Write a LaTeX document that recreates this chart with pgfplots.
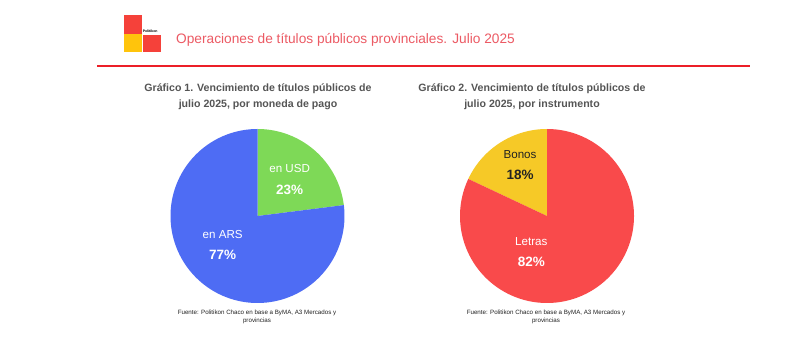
\documentclass[border=0pt]{standalone}
\usepackage{pgfplots}
\pgfplotsset{compat=1.18}
\usepackage{pgfplotstable}
\usepackage{fontspec}
\setmainfont{Liberation Sans}
\definecolor{ars}{HTML}{4E6CF4}
\definecolor{usd}{HTML}{7ED957}
\definecolor{letras}{HTML}{F94A4B}
\definecolor{bonos}{HTML}{F6C927}
\definecolor{titlered}{HTML}{EC5A64}
\definecolor{linered}{HTML}{EC1F28}
\definecolor{logored}{HTML}{F5413A}
\definecolor{logoyel}{HTML}{FFC40C}
\definecolor{grayt}{HTML}{555555}
\definecolor{darkt}{HTML}{222222}

\pgfplotstableread{
moneda valor
USD 23
ARS 77
}\monedas
\pgfplotstableread{
instrumento valor
Bonos 18
Letras 82
}\instrumentos

\begin{document}
\begin{tikzpicture}[x=1pt,y=1pt]
\path[use as bounding box, fill=white] (0,0) rectangle (800,-358);
\coordinate (c1) at (257.5,-216);
\coordinate (c2) at (547,-216);
% logo
\fill[logored] (124,-15) rectangle (142,-34);
\fill[logoyel] (124,-34.5) rectangle (142,-52);
\fill[logored] (142.5,-35) rectangle (161,-52);
\node[font=\bfseries\fontsize{3.5}{4}\selectfont, anchor=west, inner sep=0] at (142.6,-31) {Politikon};
\node[font=\fontsize{13.7}{16}\selectfont, text=titlered, anchor=west, inner sep=0] at (176,-40) {Operaciones de títulos públicos provinciales. Julio 2025};
\draw[linered, line width=2] (97,-66) -- (750,-66);

% chart titles
\node[font=\bfseries\fontsize{10.6}{12}\selectfont, text=grayt, inner sep=0] at (258,-89) {Gráfico 1. Vencimiento de títulos públicos de};
\node[font=\bfseries\fontsize{10.6}{12}\selectfont, text=grayt, inner sep=0] at (258,-105) {julio 2025, por moneda de pago};
\node[font=\bfseries\fontsize{10.6}{12}\selectfont, text=grayt, inner sep=0] at (532,-89) {Gráfico 2. Vencimiento de títulos públicos de};
\node[font=\bfseries\fontsize{10.6}{12}\selectfont, text=grayt, inner sep=0] at (532,-105) {julio 2025, por instrumento};

% sources
\node[font=\fontsize{6.2}{7}\selectfont, text=darkt, inner sep=0] at (257,-313) {Fuente: Politikon Chaco en base a ByMA, A3 Mercados y};
\node[font=\fontsize{6.2}{7}\selectfont, text=darkt, inner sep=0] at (257,-321) {provincias};
\node[font=\fontsize{6.2}{7}\selectfont, text=darkt, inner sep=0] at (546,-313) {Fuente: Politikon Chaco en base a ByMA, A3 Mercados y};
\node[font=\fontsize{6.2}{7}\selectfont, text=darkt, inner sep=0] at (546,-321) {provincias};

\pgfplotstablegetelem{0}{valor}\of\monedas
\edef\vusd{\pgfplotsretval}
\pgfplotstablegetelem{0}{valor}\of\instrumentos
\edef\vbonos{\pgfplotsretval}
\pgfmathsetmacro{\aUSD}{90-3.6*\vusd}
\pgfmathsetmacro{\aBonos}{90+3.6*\vbonos}

\begin{axis}[at={(c1)}, anchor=origin, width=174pt, height=174pt,
  scale only axis, xmin=-1, xmax=1, ymin=-1, ymax=1, hide axis, clip=false]
\addplot[fill=usd, draw=none, domain=\aUSD:90, samples=100] ({cos(x)},{sin(x)}) -- (axis cs:0,0) -- cycle;
\addplot[fill=ars, draw=none, domain=-270:\aUSD, samples=250] ({cos(x)},{sin(x)}) -- (axis cs:0,0) -- cycle;
\node[text=white, font=\fontsize{11.6}{14}\selectfont] at (axis cs:0.37,0.55) {en USD};
\node[text=white, font=\bfseries\fontsize{13.5}{14}\selectfont] at (axis cs:0.37,0.30) {23\%};
\node[text=white, font=\fontsize{11.6}{14}\selectfont] at (axis cs:-0.40,-0.21) {en ARS};
\node[text=white, font=\bfseries\fontsize{13.5}{14}\selectfont] at (axis cs:-0.40,-0.45) {77\%};
\end{axis}

\begin{axis}[at={(c2)}, anchor=origin, width=174pt, height=174pt,
  scale only axis, xmin=-1, xmax=1, ymin=-1, ymax=1, hide axis, clip=false]
\addplot[fill=bonos, draw=none, domain=90:\aBonos, samples=100] ({cos(x)},{sin(x)}) -- (axis cs:0,0) -- cycle;
\addplot[fill=letras, draw=none, domain=\aBonos:450, samples=250] ({cos(x)},{sin(x)}) -- (axis cs:0,0) -- cycle;
\node[text=darkt, font=\fontsize{11.6}{14}\selectfont] at (axis cs:-0.31,0.71) {Bonos};
\node[text=darkt, font=\bfseries\fontsize{13.5}{14}\selectfont] at (axis cs:-0.31,0.47) {18\%};
\node[text=white, font=\fontsize{11.6}{14}\selectfont] at (axis cs:-0.18,-0.29) {Letras};
\node[text=white, font=\bfseries\fontsize{13.5}{14}\selectfont] at (axis cs:-0.18,-0.53) {82\%};
\end{axis}
\end{tikzpicture}
\end{document}
